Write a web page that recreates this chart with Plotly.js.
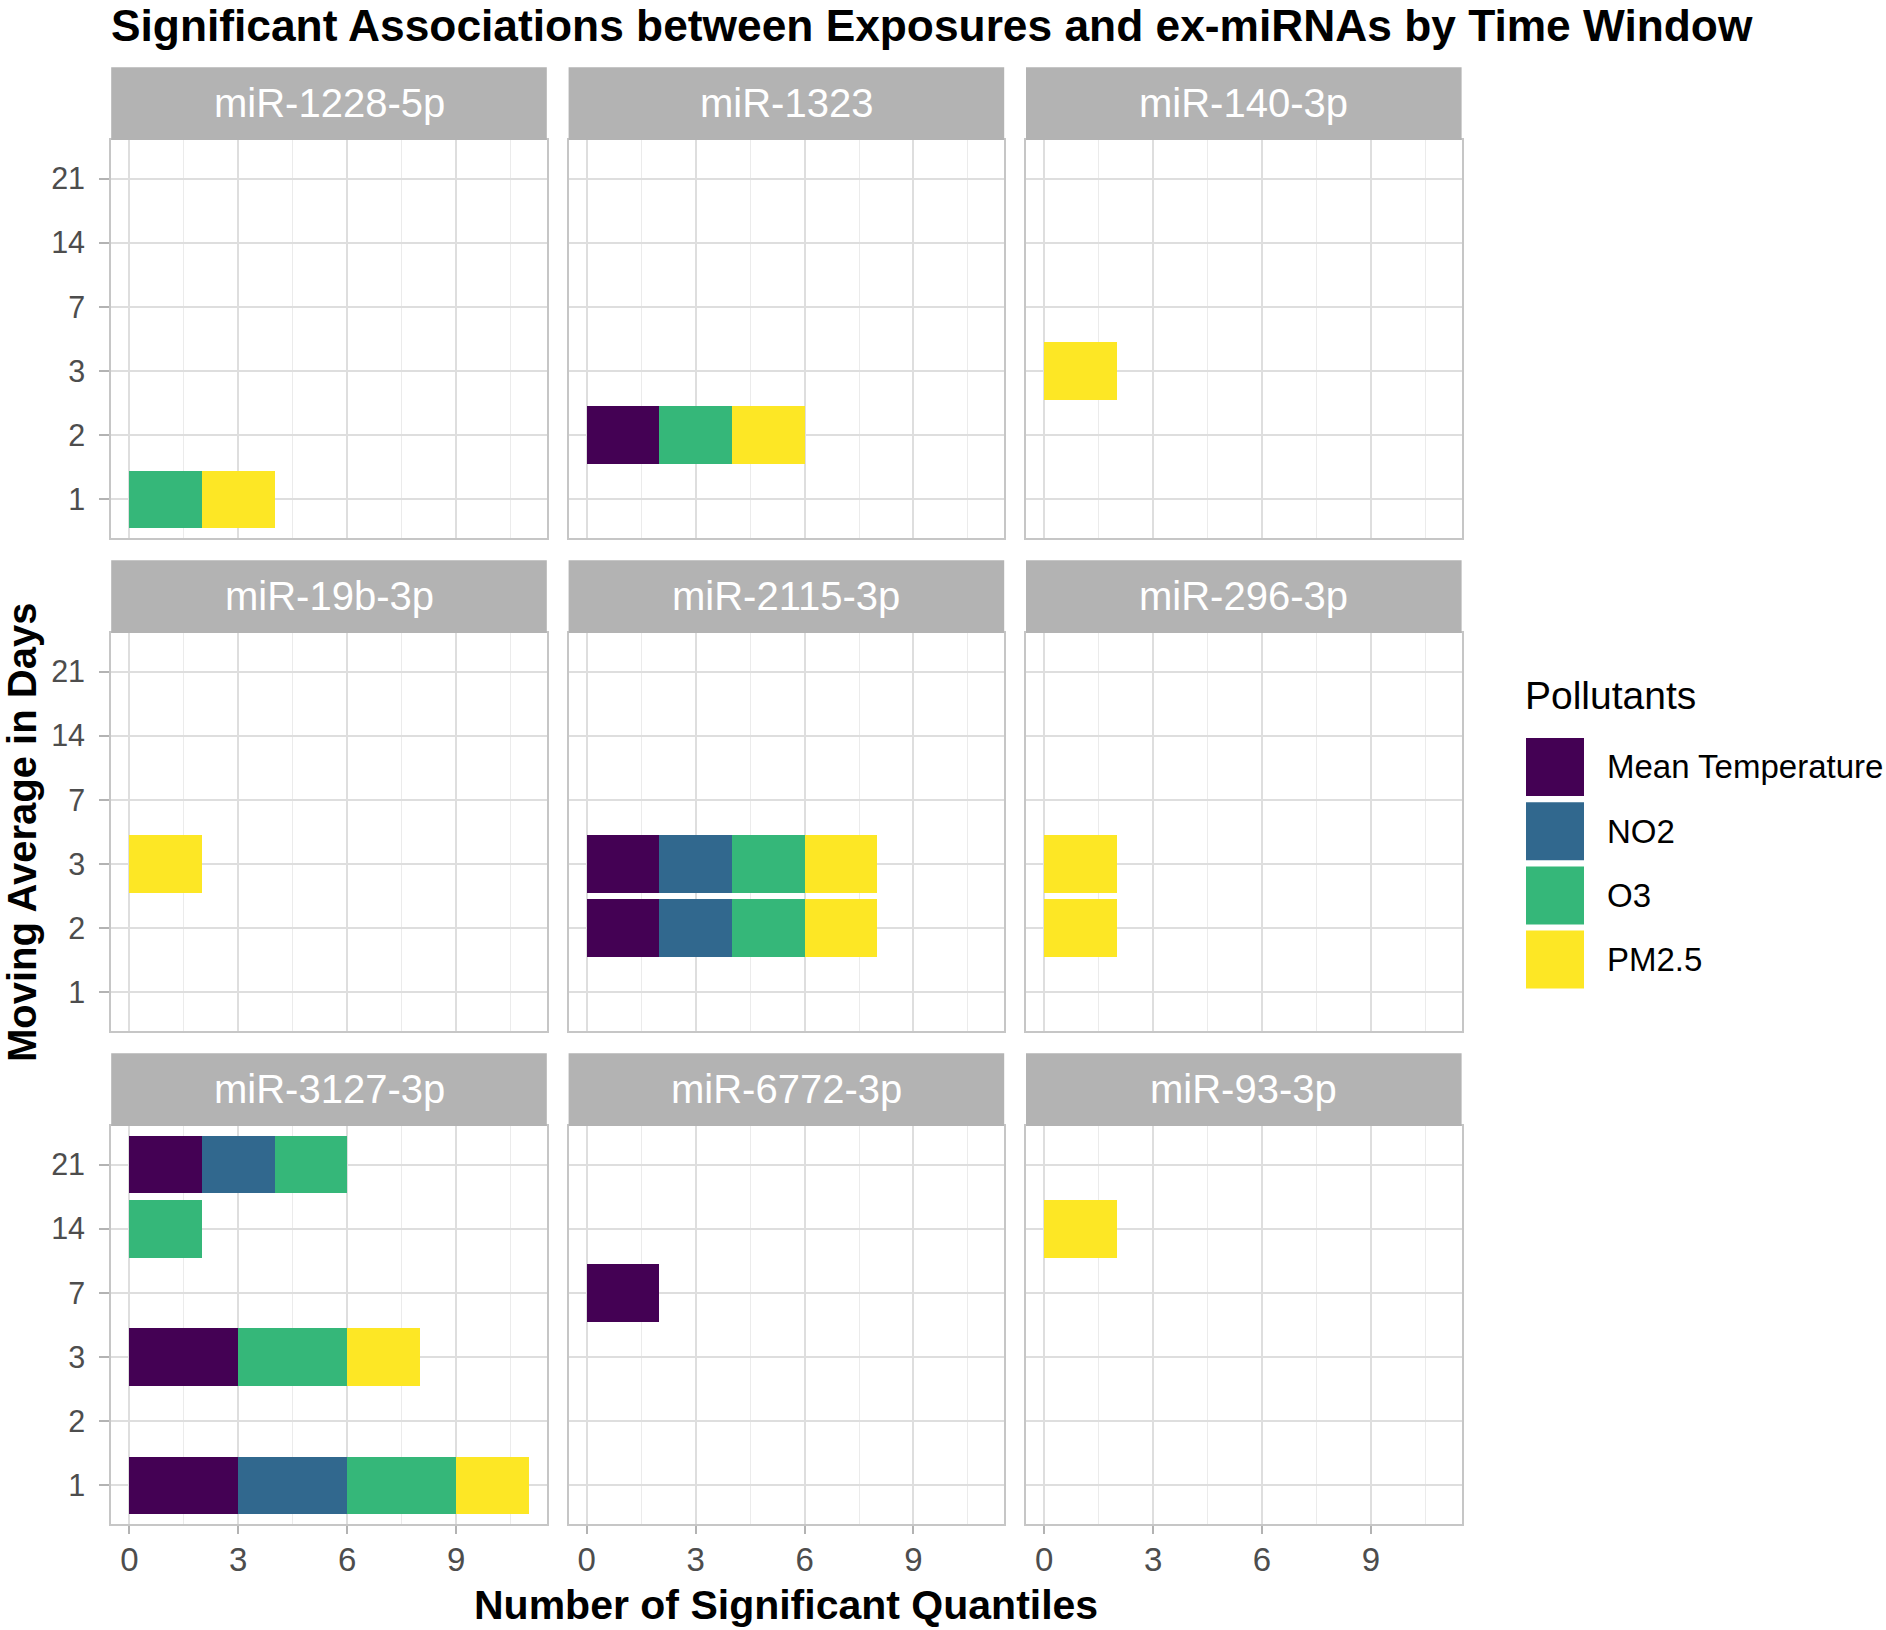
<!DOCTYPE html>
<html>
<head>
<meta charset="utf-8">
<script src="https://cdn.plot.ly/plotly-3.0.1.min.js"></script>
<style>html,body{margin:0;padding:0;background:#fff;overflow:hidden}#chart{width:1886px;height:1630px}</style>
</head>
<body>
<div id="chart"></div>
<script>
// ---- data ----
const miRNAs = ['miR-1228-5p','miR-1323','miR-140-3p','miR-19b-3p','miR-2115-3p','miR-296-3p','miR-3127-3p','miR-6772-3p','miR-93-3p'];
const windows = ['1','2','3','7','14','21'];
const pollutants = ['Mean Temperature','NO2','O3','PM2.5'];
const colors = ['#440154','#31688E','#35B779','#FDE725'];
const xTicks = [0,3,6,9];

const recMiRNA = [
  'miR-1228-5p','miR-1228-5p',
  'miR-1323','miR-1323','miR-1323',
  'miR-140-3p',
  'miR-19b-3p',
  'miR-2115-3p','miR-2115-3p','miR-2115-3p','miR-2115-3p','miR-2115-3p','miR-2115-3p','miR-2115-3p','miR-2115-3p',
  'miR-296-3p','miR-296-3p',
  'miR-3127-3p','miR-3127-3p','miR-3127-3p','miR-3127-3p','miR-3127-3p','miR-3127-3p','miR-3127-3p','miR-3127-3p','miR-3127-3p','miR-3127-3p','miR-3127-3p',
  'miR-6772-3p',
  'miR-93-3p'
];
const recWindow = [
  '1','1',
  '2','2','2',
  '3',
  '3',
  '3','3','3','3','2','2','2','2',
  '3','2',
  '21','21','21','14','3','3','3','1','1','1','1',
  '7',
  '14'
];
const recPollutant = [
  'O3','PM2.5',
  'Mean Temperature','O3','PM2.5',
  'PM2.5',
  'PM2.5',
  'Mean Temperature','NO2','O3','PM2.5','Mean Temperature','NO2','O3','PM2.5',
  'PM2.5','PM2.5',
  'Mean Temperature','NO2','O3','O3','Mean Temperature','O3','PM2.5','Mean Temperature','NO2','O3','PM2.5',
  'Mean Temperature',
  'PM2.5'
];
const recCount = [
  2,2,
  2,2,2,
  2,
  2,
  2,2,2,2,2,2,2,2,
  2,2,
  2,2,2,2,3,3,2,3,3,3,2,
  2,
  2
];

// ---- geometry (pixels) ----
const W = 1886, H = 1630;
const fx = v => v / W;
const fy = v => 1 - v / H;
const colLeft = [111.2, 568.6, 1026.0];
const panelW = 435.6;
const rowTop = [140, 633, 1126];
const panelH = 398;
const stripH = 72.7;
const FONT = 'Liberation Sans, Arial, sans-serif';

const traces = [];
const layout = {
  width: W, height: H,
  margin: {l:0, r:0, t:0, b:0},
  paper_bgcolor: '#ffffff', plot_bgcolor: '#ffffff',
  barmode: 'stack', bargap: 0.1,
  showlegend: false,
  font: {family: FONT, color: '#000'},
  title: {
    text: 'Significant Associations between Exposures and ex-miRNAs by Time Window',
    font: {family: FONT, size: 44.3, color: '#000', weight: 'bold'},
    x: fx(111), xref: 'container', xanchor: 'left',
    y: fy(25), yref: 'container', yanchor: 'middle'
  },
  shapes: [], annotations: []
};

miRNAs.forEach((m, k) => {
  const r = Math.floor(k / 3), c = k % 3;
  const sfx = k === 0 ? '' : String(k + 1);
  const left = colLeft[c], top = rowTop[r];

  pollutants.forEach((p, j) => {
    const xs = [], ys = [];
    recMiRNA.forEach((mm, i) => {
      if (mm === m && recPollutant[i] === p) { xs.push(recCount[i]); ys.push(recWindow[i]); }
    });
    if (xs.length) {
      traces.push({
        type: 'bar', orientation: 'h', name: p,
        x: xs, y: ys,
        xaxis: 'x' + sfx, yaxis: 'y' + sfx,
        marker: {color: colors[j], line: {width: 0}},
        showlegend: false, hoverinfo: 'skip'
      });
    }
  });

  const bottomRow = r === 2, leftCol = c === 0;
  layout['xaxis' + sfx] = {
    domain: [fx(left), fx(left + panelW)],
    anchor: 'y' + sfx,
    range: [-0.5, 11.5],
    tickmode: 'array', tickvals: xTicks, ticktext: xTicks.map(String),
    showticklabels: bottomRow,
    ticks: bottomRow ? 'outside' : '', ticklen: 8, tickwidth: 2, tickcolor: '#B3B3B3',
    ticklabelstandoff: -3,
    tickfont: {family: FONT, size: 33, color: '#4D4D4D'},
    showgrid: true, gridcolor: '#DEDEDE', gridwidth: 2,
    minor: {dtick: 1.5, tick0: 0, showgrid: true, gridcolor: '#EBEBEB', gridwidth: 1, ticks: ''},
    zeroline: false,
    showline: true, mirror: true, linecolor: '#C6C6C6', linewidth: 2,
    fixedrange: true
  };
  layout['yaxis' + sfx] = {
    domain: [fy(top + panelH), fy(top)],
    anchor: 'x' + sfx,
    type: 'category', categoryorder: 'array', categoryarray: windows,
    range: [-0.6, windows.length - 0.4],
    showticklabels: leftCol,
    ticks: leftCol ? 'outside' : '', ticklen: 10, tickwidth: 2, tickcolor: '#B3B3B3',
    ticklabelstandoff: 8,
    tickfont: {family: FONT, size: 30.5, color: '#4D4D4D'},
    showgrid: true, gridcolor: '#DEDEDE', gridwidth: 2,
    zeroline: false,
    showline: true, mirror: true, linecolor: '#C6C6C6', linewidth: 2,
    fixedrange: true
  };

  // strip
  layout.shapes.push({
    type: 'rect', xref: 'paper', yref: 'paper',
    x0: fx(left), x1: fx(left + panelW), y0: fy(top), y1: fy(top - stripH),
    fillcolor: '#B3B3B3', line: {width: 0}, layer: 'above'
  });
  layout.annotations.push({
    text: m, xref: 'paper', yref: 'paper',
    x: fx(left + panelW / 2), y: fy(top - stripH / 2 - 1),
    xanchor: 'center', yanchor: 'middle', showarrow: false,
    font: {family: FONT, size: 40, color: '#ffffff'}
  });
});

// axis titles
layout.annotations.push({
  text: 'Number of Significant Quantiles', xref: 'paper', yref: 'paper',
  x: fx((colLeft[0] + colLeft[2] + panelW) / 2), y: fy(1605),
  xanchor: 'center', yanchor: 'middle', showarrow: false,
  font: {family: FONT, size: 41, color: '#000', weight: 'bold'}
});
layout.annotations.push({
  text: 'Moving Average in Days', xref: 'paper', yref: 'paper',
  x: fx(22), y: fy(833), textangle: -90,
  xanchor: 'center', yanchor: 'middle', showarrow: false,
  font: {family: FONT, size: 40, color: '#000', weight: 'bold'}
});

// legend (drawn manually, large keys as in ggplot)
const legX = 1526, keyS = 58, keyTop0 = 738, keyStep = 64.2;
layout.annotations.push({
  text: 'Pollutants', xref: 'paper', yref: 'paper',
  x: fx(legX - 3), y: fy(695), xanchor: 'left', yanchor: 'middle', showarrow: false,
  font: {family: FONT, size: 39, color: '#000'}
});
pollutants.forEach((p, j) => {
  const t = keyTop0 + j * keyStep;
  layout.shapes.push({
    type: 'rect', xref: 'paper', yref: 'paper',
    x0: fx(legX), x1: fx(legX + keyS), y0: fy(t + keyS), y1: fy(t),
    fillcolor: colors[j], line: {width: 0}
  });
  layout.annotations.push({
    text: p, xref: 'paper', yref: 'paper',
    x: fx(1605), y: fy(t + keyS / 2), xanchor: 'left', yanchor: 'middle', showarrow: false,
    font: {family: FONT, size: 33, color: '#000'}
  });
});

Plotly.newPlot('chart', traces, layout, {staticPlot: true, displayModeBar: false});
</script>
</body>
</html>
